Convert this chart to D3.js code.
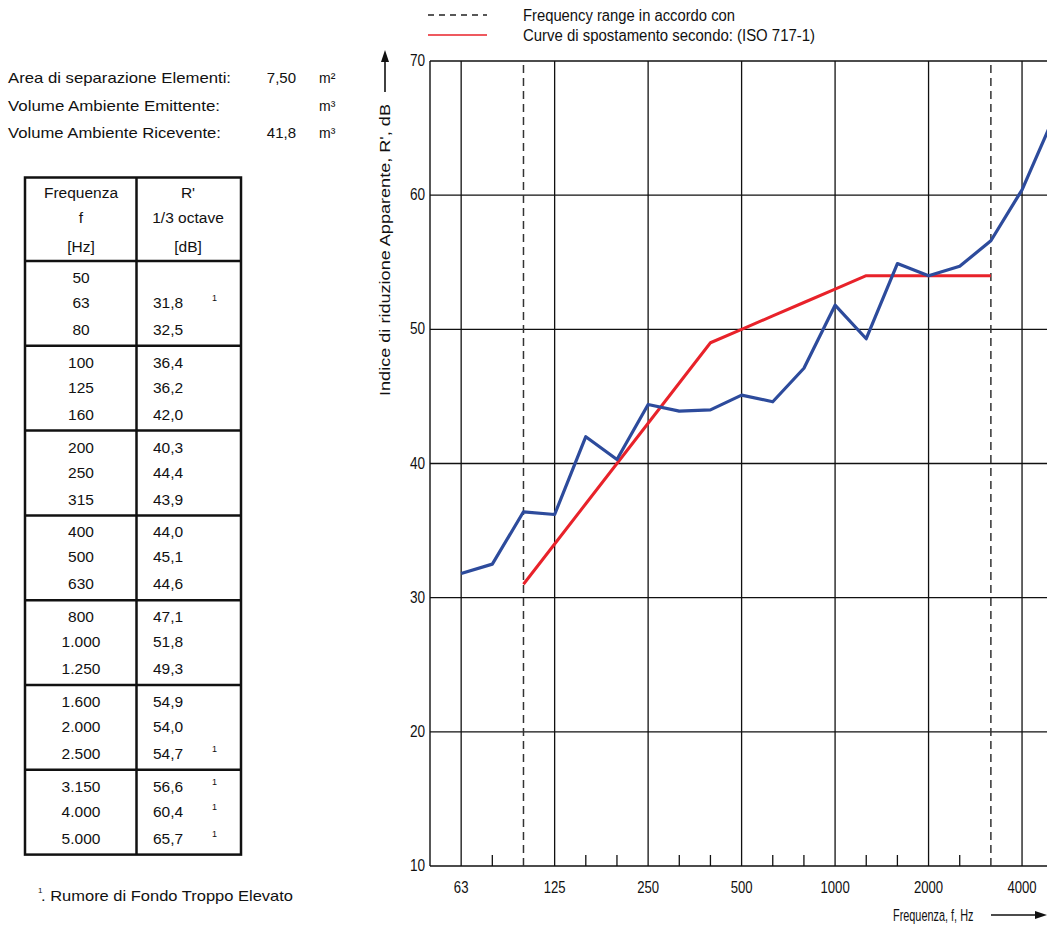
<!DOCTYPE html>
<html><head><meta charset="utf-8">
<script src="https://cdn.jsdelivr.net/npm/d3@7"></script>
<style>
html,body{margin:0;padding:0;background:#fff;overflow:hidden}
svg text{font-family:"Liberation Sans",Arial,Helvetica,sans-serif;fill:#111}
</style></head><body>
<svg id="c" width="1047" height="925"></svg>
<script>
// ---- data ----
const bands = ["50","63","80","100","125","160","200","250","315","400","500","630","800","1000","1250","1600","2000","2500","3150","4000","5000","6300"];
const tableFreqLabels = ["50","63","80","100","125","160","200","250","315","400","500","630","800","1.000","1.250","1.600","2.000","2.500","3.150","4.000","5.000"];
const measured = [null,31.8,32.5,36.4,36.2,42.0,40.3,44.4,43.9,44.0,45.1,44.6,47.1,51.8,49.3,54.9,54.0,54.7,56.6,60.4,65.7];
const noteFlags = [0,1,0,0,0,0,0,0,0,0,0,0,0,0,0,0,0,1,1,1,1];
const refBands = ["100","125","160","200","250","315","400","500","630","800","1000","1250","1600","2000","2500","3150"];
const refCurve = [31,34,37,40,43,46,49,50,51,52,53,54,54,54,54,54];
const octaveLabels = ["63","125","250","500","1000","2000","4000"];
const rangeLimits = ["100","3150"];
const yTicks = [10,20,30,40,50,60,70];
const infoRows = [
  ["Area di separazione Elementi:","7,50","m²"],
  ["Volume Ambiente Emittente:","","m³"],
  ["Volume Ambiente Ricevente:","41,8","m³"]
];
const infoWidths = [223,212,213];
const headerLeft = ["Frequenza","f","[Hz]"];
const headerRight = ["R'","1/3 octave","[dB]"];
const legendItems = ["Frequency  range in accordo con","Curve di spostamento secondo: (ISO 717-1)"];

const svg = d3.select("#c");
const blue = "#2d4b9c", red = "#e8222a";

// ---- info text ----
const info = svg.append("g").attr("font-size",15);
infoRows.forEach((r,i)=>{
  const yy = 83 + i*27.5;
  info.append("text").attr("x",8).attr("y",yy)
    .attr("textLength",infoWidths[i]).attr("lengthAdjust","spacingAndGlyphs").text(r[0]);
  info.append("text").attr("x",296).attr("y",yy).attr("text-anchor","end").text(r[1]);
  info.append("text").attr("x",319).attr("y",yy).attr("font-size",14).text(r[2]);
});

// ---- table ----
const tb = svg.append("g").attr("font-size",15.5);
const tL=25, tR=241, tM=136.5, tT=177.5, tH=261, gH=84.8, nG=7;
const tBottom = tH + gH*nG;
tb.append("rect").attr("x",tL).attr("y",tT).attr("width",tR-tL).attr("height",tBottom-tT)
  .attr("fill","none").attr("stroke","#111").attr("stroke-width",2.5);
tb.append("line").attr("x1",tM).attr("x2",tM).attr("y1",tT).attr("y2",tBottom).attr("stroke","#111").attr("stroke-width",2.5);
d3.range(nG).forEach(g=>{
  tb.append("line").attr("x1",tL).attr("x2",tR).attr("y1",tH+g*gH).attr("y2",tH+g*gH).attr("stroke","#111").attr("stroke-width",2.5);
});
const hdrY=[198,223,252];
headerLeft.forEach((t,i)=>tb.append("text").attr("x",81).attr("y",hdrY[i]).attr("text-anchor","middle").text(t));
headerRight.forEach((t,i)=>tb.append("text").attr("x",188).attr("y",hdrY[i]).attr("text-anchor","middle").text(t));
const rowOff=[22,47,74];
tableFreqLabels.forEach((f,i)=>{
  const g=Math.floor(i/3), k=i%3;
  const yy=tH+g*gH+rowOff[k];
  tb.append("text").attr("x",81).attr("y",yy).attr("text-anchor","middle").text(f);
  if(measured[i]!=null){
    tb.append("text").attr("x",153).attr("y",yy).text(d3.format(".1f")(measured[i]).replace(".",","));
  }
  if(noteFlags[i]){
    tb.append("text").attr("x",212).attr("y",yy-7).attr("font-size",9).text("1");
  }
});
svg.append("text").attr("x",38).attr("y",893).attr("font-size",8).text("1");
svg.append("text").attr("x",41).attr("y",901).attr("font-size",15)
  .attr("textLength",252).attr("lengthAdjust","spacingAndGlyphs").text(". Rumore di Fondo Troppo Elevato");

// ---- chart ----
const x = d3.scalePoint().domain(bands).range([430, 430 + 31.16*(bands.length-1)]);
const y = d3.scaleLinear().domain([10,70]).range([866,61]);
const xR = x(bands[bands.length-1]);
const ch = svg.append("g");

// horizontal grid
ch.selectAll("line.h").data(yTicks).join("line")
  .attr("x1",430).attr("x2",xR).attr("y1",d=>y(d)).attr("y2",d=>y(d))
  .attr("stroke","#111").attr("stroke-width",1.4);
// left border
ch.append("line").attr("x1",430).attr("x2",430).attr("y1",y(70)).attr("y2",y(10)).attr("stroke","#111").attr("stroke-width",1.4);
// octave gridlines
ch.selectAll("line.o").data(octaveLabels).join("line")
  .attr("x1",d=>x(d)).attr("x2",d=>x(d)).attr("y1",y(70)).attr("y2",y(10))
  .attr("stroke","#111").attr("stroke-width",1.3);
// minor ticks
const minor = bands.filter(b=>b!=="50" && !octaveLabels.includes(b) && !rangeLimits.includes(b));
ch.selectAll("line.m").data(minor).join("line")
  .attr("x1",d=>x(d)).attr("x2",d=>x(d)).attr("y1",y(10)-11).attr("y2",y(10))
  .attr("stroke","#111").attr("stroke-width",1.3);
// dashed range limits
ch.selectAll("line.d").data(rangeLimits).join("line")
  .attr("x1",d=>x(d)).attr("x2",d=>x(d)).attr("y1",y(70)+4).attr("y2",y(10))
  .attr("stroke","#333").attr("stroke-width",1.5).attr("stroke-dasharray","8,5");

// y tick labels
ch.selectAll("text.y").data(yTicks).join("text")
  .attr("transform",d=>`translate(425,${y(d)+5}) scale(0.85,1)`)
  .attr("text-anchor","end").attr("font-size",16).text(d=>d);
// x tick labels
ch.selectAll("text.x").data(octaveLabels).join("text")
  .attr("transform",d=>`translate(${x(d)},${893}) scale(0.82,1)`)
  .attr("text-anchor","middle").attr("font-size",16).text(d=>d);

// reference curve
const line = d3.line().x(d=>x(d[0])).y(d=>y(d[1]));
ch.append("path").datum(refBands.map((b,i)=>[b,refCurve[i]]))
  .attr("d",line).attr("fill","none").attr("stroke",red).attr("stroke-width",3).attr("stroke-linejoin","round");
// measured curve
ch.append("path").datum(bands.slice(0,measured.length).map((b,i)=>[b,measured[i]]).filter(d=>d[1]!=null))
  .attr("d",line).attr("fill","none").attr("stroke",blue).attr("stroke-width",3.2).attr("stroke-linejoin","round");

// y axis title
const yt = svg.append("g").attr("transform","translate(390,396) rotate(-90)");
yt.append("text").attr("x",0).attr("y",0).attr("font-size",15.5)
  .attr("textLength",292).attr("lengthAdjust","spacingAndGlyphs").text("Indice di riduzione Apparente, R', dB");
yt.append("line").attr("x1",304).attr("x2",336).attr("y1",-5).attr("y2",-5).attr("stroke","#111").attr("stroke-width",1.6);
yt.append("path").attr("d","M346,-5 L334,-9 L334,-1 Z").attr("fill","#111");

// x axis title
svg.append("text").attr("transform","translate(893,921) scale(0.66,1)").attr("font-size",16.5)
  .text("Frequenza, f, Hz");
svg.append("line").attr("x1",991).attr("x2",1038).attr("y1",915).attr("y2",915).attr("stroke","#111").attr("stroke-width",1.6);
svg.append("path").attr("d","M1047,915 L1035,911 L1035,919 Z").attr("fill","#111");

// legend
const lg = svg.append("g");
lg.append("line").attr("x1",428).attr("x2",487).attr("y1",15).attr("y2",15)
  .attr("stroke","#222").attr("stroke-width",1.3).attr("stroke-dasharray","6,5");
lg.append("line").attr("x1",428).attr("x2",487).attr("y1",35).attr("y2",35)
  .attr("stroke",red).attr("stroke-width",1.5);
lg.append("text").attr("x",523).attr("y",21).attr("font-size",16)
  .attr("textLength",212).attr("lengthAdjust","spacingAndGlyphs").text(legendItems[0]);
lg.append("text").attr("x",523).attr("y",41).attr("font-size",16)
  .attr("textLength",292).attr("lengthAdjust","spacingAndGlyphs").text(legendItems[1]);
</script>
</body></html>
